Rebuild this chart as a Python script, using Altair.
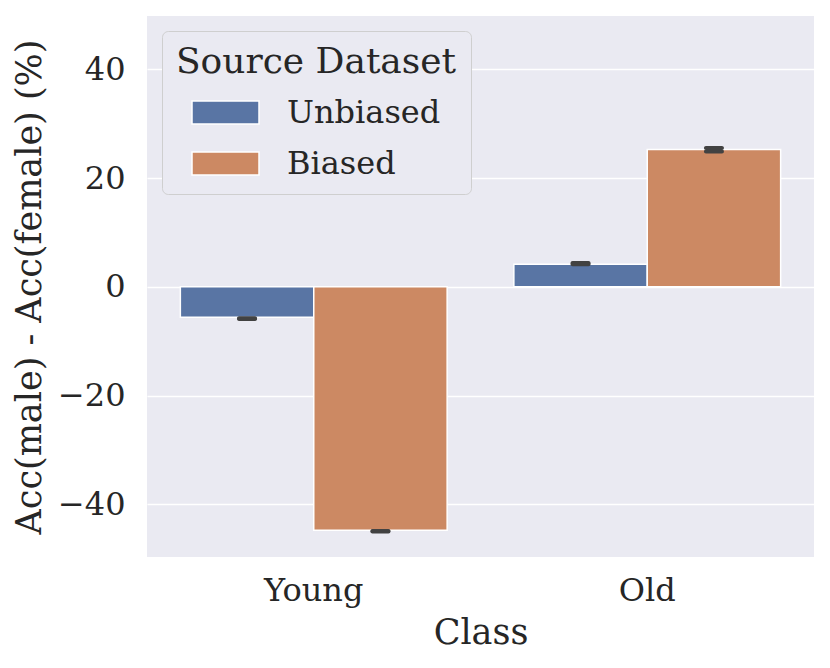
import altair as alt
import pandas as pd

classes = ["Young", "Young", "Old", "Old"]
sources = ["Unbiased", "Biased", "Unbiased", "Biased"]
means = [-5.6, -44.8, 4.15, 25.25]
ci_lo = [-5.95, -45.0, 4.15, 24.9]
ci_hi = [-5.8, -44.9, 4.35, 25.5]

class_order = ["Young", "Old"]
source_order = ["Unbiased", "Biased"]
palette = ["#5975a4", "#cc8963"]

df = pd.DataFrame({"Class": classes, "Source Dataset": sources,
                   "mean": means, "lo": ci_lo, "hi": ci_hi})

FONT = "DejaVu Serif"

x = alt.X("Class:N", sort=class_order, title="Class",
          scale=alt.Scale(paddingInner=0.2, paddingOuter=0.1),
          axis=alt.Axis(labelAngle=0, ticks=False, domain=False, grid=False,
                        labelFontSize=32, titleFontSize=35, labelPadding=18,
                        titlePadding=9, labelColor="#262626", titleColor="#262626",
                        labelFont=FONT, titleFont=FONT, titleFontWeight="normal"))
xo = alt.XOffset("Source Dataset:N", sort=source_order)
yscale = alt.Scale(domain=[-49.7, 49.8], nice=False, zero=False)

bars = alt.Chart(df).mark_bar(stroke="white", strokeWidth=1.5).encode(
    x=x, xOffset=xo,
    y=alt.Y("mean:Q", scale=yscale, title="Acc(male) - Acc(female) (%)",
            axis=alt.Axis(values=[-40, -20, 0, 20, 40], ticks=False, domain=False,
                          grid=True, gridColor="white", gridWidth=1.5,
                          labelFontSize=32, titleFontSize=35, labelPadding=22,
                          titlePadding=10, labelColor="#262626", titleColor="#262626",
                          labelFont=FONT, titleFont=FONT, titleFontWeight="normal")),
    color=alt.Color("Source Dataset:N", sort=source_order,
                    scale=alt.Scale(domain=source_order, range=palette),
                    legend=alt.Legend(orient="none", legendX=15, legendY=15,
                                      title="Source Dataset", titleLimit=500,
                                      titleFontSize=36, labelFontSize=32,
                                      titleFont=FONT, labelFont=FONT,
                                      titleFontWeight="normal",
                                      titleColor="#262626", labelColor="#262626",
                                      titleAnchor="middle",
                                      symbolType="M-1,-0.343H1V0.343H-1Z",
                                      symbolSize=4489, symbolStrokeColor="white",
                                      symbolStrokeWidth=1.5, symbolOpacity=1,
                                      symbolOffset=0, labelOffset=27,
                                      padding=14, fillColor="#eaeaf2",
                                      strokeColor="#cfcfcf", cornerRadius=6,
                                      rowPadding=-3, titlePadding=-3)),
)

err = alt.Chart(df).mark_rule(color="#424242", strokeWidth=4).encode(
    x=alt.X("Class:N", sort=class_order), xOffset=xo,
    y=alt.Y("lo:Q", scale=yscale), y2="hi:Q")

caps_lo = alt.Chart(df).mark_tick(color="#424242", thickness=4, size=20,
                                  cornerRadius=2, opacity=1).encode(
    x=alt.X("Class:N", sort=class_order), xOffset=xo,
    y=alt.Y("lo:Q", scale=yscale))
caps_hi = alt.Chart(df).mark_tick(color="#424242", thickness=4, size=20,
                                  cornerRadius=2, opacity=1).encode(
    x=alt.X("Class:N", sort=class_order), xOffset=xo,
    y=alt.Y("hi:Q", scale=yscale))

chart = alt.layer(bars, err, caps_lo, caps_hi).properties(
    width=667, height=541,
    autosize=alt.AutoSizeParams(type="none"),
    padding={"left": 139, "top": 8, "right": 8, "bottom": 100},
).configure(background="white").configure_view(fill="#eaeaf2", stroke=None)

chart.save("out.html", embed_options={"renderer": "svg", "actions": False})
